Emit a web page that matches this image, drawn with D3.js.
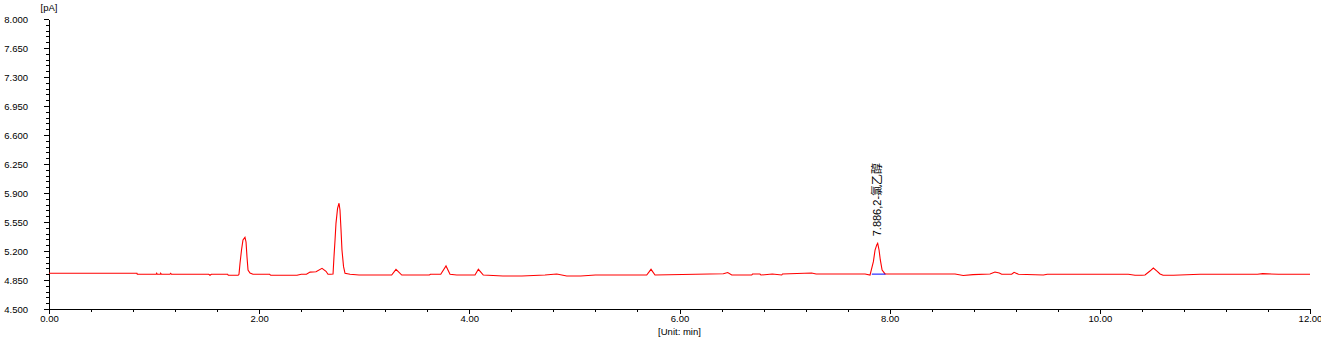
<!DOCTYPE html>
<html>
<head>
<meta charset="utf-8">
<script src="https://cdn.jsdelivr.net/npm/d3@7"></script>
<style>
  body { margin: 0; background: #fff; }
  svg { display: block; }
  .tick text { font-family: "Liberation Sans", Arial, sans-serif; font-size: 9.5px; fill: #000; }
  .domain, .tick line { stroke: #000; shape-rendering: crispEdges; }
</style>
</head>
<body>
<div id="chart"></div>
<script>
/* DATA */
// retention time (min) and detector signal (pA)
const traceTime = [
  0, 0.837, 0.84, 1.02, 1.025, 1.03, 1.06, 1.063, 1.07, 1.15, 1.158, 1.165,
  1.52, 1.532, 1.545, 1.70, 1.706, 1.80, 1.808, 1.818, 1.832, 1.846, 1.865, 1.875,
  1.884, 1.894, 1.913, 1.941, 2.10, 2.11, 2.36, 2.40, 2.45, 2.484, 2.541, 2.598,
  2.636, 2.655, 2.68, 2.703, 2.712, 2.722, 2.731, 2.746, 2.760, 2.769, 2.779, 2.788,
  2.803, 2.817, 2.865, 2.95, 3.261, 3.302, 3.357, 3.62, 3.63, 3.728, 3.778, 3.816,
  3.880, 4.054, 4.086, 4.133, 4.32, 4.50, 4.72, 4.832, 4.927, 5.06, 5.20, 5.688,
  5.729, 5.767, 6.417, 6.459, 6.497, 6.687, 6.695, 6.766, 6.775, 6.883, 6.973, 6.98,
  7.258, 7.30, 7.766, 7.813, 7.845, 7.861, 7.877, 7.886, 7.899, 7.911, 7.928, 7.956,
  8.0, 8.622, 8.70, 8.793, 8.955, 9.002, 9.043, 9.066, 9.161, 9.184, 9.225, 9.463,
  9.50, 10.271, 10.335, 10.40, 10.430, 10.477, 10.509, 10.541, 10.573, 10.602, 10.700, 10.954,
  11.5, 11.55, 11.7, 11.8, 12.0
];
const traceSignal = [
  4.931, 4.931, 4.919, 4.919, 4.931, 4.919, 4.919, 4.931, 4.919, 4.919, 4.931, 4.919,
  4.919, 4.907, 4.919, 4.919, 4.907, 4.907, 4.919, 5.055, 5.212, 5.333, 5.365, 5.309,
  5.131, 4.971, 4.935, 4.919, 4.919, 4.907, 4.907, 4.919, 4.919, 4.945, 4.950, 4.991,
  4.955, 4.919, 4.919, 4.923, 5.131, 5.333, 5.534, 5.715, 5.776, 5.695, 5.454, 5.212,
  5.011, 4.931, 4.919, 4.910, 4.910, 4.979, 4.910, 4.910, 4.919, 4.919, 5.019, 4.919,
  4.910, 4.910, 4.979, 4.910, 4.898, 4.898, 4.910, 4.922, 4.898, 4.898, 4.910, 4.910,
  4.979, 4.910, 4.925, 4.940, 4.910, 4.910, 4.922, 4.922, 4.910, 4.922, 4.910, 4.922,
  4.934, 4.922, 4.922, 4.910, 5.071, 5.212, 5.273, 5.293, 5.212, 5.092, 4.971, 4.923,
  4.922, 4.922, 4.905, 4.915, 4.922, 4.947, 4.934, 4.919, 4.919, 4.943, 4.919, 4.910,
  4.919, 4.919, 4.907, 4.907, 4.910, 4.958, 4.995, 4.960, 4.923, 4.907, 4.907, 4.919,
  4.919, 4.927, 4.919, 4.919, 4.919
];

// integrated peak
const peakTimes = [7.886];
const peakSignal = [5.293];
const peakNames = ["2-氯乙醇"];
const peakBaseTime = [7.83, 7.96];
const peakBaseSignal = [4.921, 4.921];

// axis ticks
const xMajorTicks = [0, 2, 4, 6, 8, 10, 12];
const yMajorTicks = [4.5, 4.85, 5.2, 5.55, 5.9, 6.25, 6.6, 6.95, 7.3, 7.65, 8.0];

/* CONSTANTS */
const width = 1321,
  height = 343,
  margin = { top: 19, bottom: 34, left: 49, right: 11 };

const svg = d3.select("#chart")
  .append("svg")
  .attr("width", width)
  .attr("height", height);

/* SCALES */
const xScale = d3.scaleLinear()
  .domain([0, 12])
  .range([margin.left, width - margin.right]);

const yScale = d3.scaleLinear()
  .domain([4.5, 8])
  .range([height - margin.bottom, margin.top]);

const xMinorTicks = d3.range(0, 61).map(i => i * 0.4).filter(d => d <= 12.0001);
const yMinorTicks = d3.range(0, 51).map(i => 4.5 + i * 0.07);

/* AXES */
// minor ticks first
svg.append("g")
  .attr("transform", `translate(${margin.left},0)`)
  .call(d3.axisLeft(yScale).tickValues(yMinorTicks).tickSize(3).tickSizeOuter(0).tickFormat(""));

svg.append("g")
  .attr("transform", `translate(${margin.left},0)`)
  .call(d3.axisLeft(yScale).tickValues(yMajorTicks).tickSize(5).tickSizeOuter(0)
    .tickPadding(16).tickFormat(d3.format(".3f")));

svg.append("g")
  .attr("transform", `translate(0,${height - margin.bottom})`)
  .call(d3.axisBottom(xScale).tickValues(xMinorTicks).tickSize(3).tickSizeOuter(0).tickFormat(""));

svg.append("g")
  .attr("transform", `translate(0,${height - margin.bottom})`)
  .call(d3.axisBottom(xScale).tickValues(xMajorTicks).tickSize(5).tickSizeOuter(0)
    .tickPadding(1).tickFormat(d3.format(".2f")));

// unit labels
svg.append("text")
  .attr("x", margin.left)
  .attr("y", 10.5)
  .attr("text-anchor", "middle")
  .style("font", "9.5px 'Liberation Sans', Arial, sans-serif")
  .text("[pA]");

svg.append("text")
  .attr("x", (margin.left + width - margin.right) / 2)
  .attr("y", 335)
  .attr("text-anchor", "middle")
  .style("font", "9.5px 'Liberation Sans', Arial, sans-serif")
  .text("[Unit: min]");

/* TRACE */
const trace = traceTime.map((t, i) => ({ t: t, v: traceSignal[i] }));

const lineFunction = d3.line()
  .x(d => xScale(d.t))
  .y(d => yScale(d.v));

svg.append("path")
  .datum(trace)
  .attr("fill", "none")
  .attr("stroke", "#ff0000")
  .attr("stroke-width", 1.1)
  .attr("d", lineFunction);

// peak baseline
svg.append("path")
  .datum(peakBaseTime.map((t, i) => ({ t: t, v: peakBaseSignal[i] })))
  .attr("fill", "none")
  .attr("stroke", "#0000ff")
  .attr("stroke-width", 1)
  .attr("d", lineFunction);

// peak label, rotated
svg.selectAll(".peak-label")
  .data(peakTimes)
  .join("text")
  .attr("class", "peak-label")
  .attr("transform", (d, i) => `translate(${xScale(d) + 3.5},${yScale(peakSignal[i]) - 7}) rotate(-90)`)
  .attr("text-anchor", "start")
  .style("font", "11px 'Liberation Sans', Arial, 'Noto Sans CJK SC', sans-serif")
  .style("fill", "#000")
  .text((d, i) => `${d.toFixed(3)},${peakNames[i]}`);
</script>
</body>
</html>
